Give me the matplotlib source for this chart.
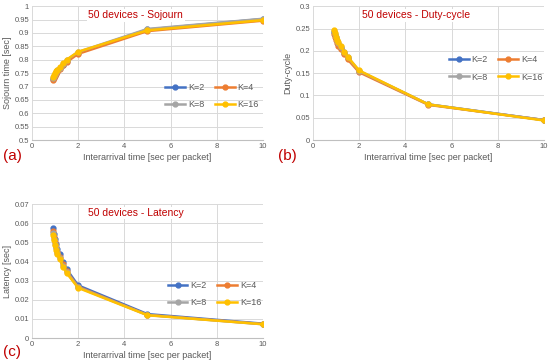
import matplotlib.pyplot as plt

plt.rcParams['font.family'] = ['Liberation Sans', 'DejaVu Sans']

# interarrival times (sec per packet)
x = [0.9, 0.95, 1.0, 1.05, 1.1, 1.2, 1.35, 1.5, 2, 5, 10]
labels = ["K=2", "K=4", "K=8", "K=16"]
colors = ["#4472C4", "#ED7D31", "#A5A5A5", "#FFC000"]

# sojourn time [sec]
sojourn_k2 = [0.730, 0.737, 0.745, 0.752, 0.758, 0.768, 0.782, 0.795, 0.826, 0.913, 0.952]
sojourn_k4 = [0.726, 0.733, 0.741, 0.748, 0.754, 0.765, 0.779, 0.791, 0.822, 0.907, 0.946]
sojourn_k8 = [0.733, 0.740, 0.748, 0.755, 0.761, 0.771, 0.786, 0.799, 0.829, 0.915, 0.953]
sojourn_k16 = [0.735, 0.742, 0.750, 0.757, 0.763, 0.772, 0.787, 0.800, 0.830, 0.910, 0.948]

# duty-cycle
duty_k2 = [0.242, 0.235, 0.228, 0.221, 0.215, 0.207, 0.195, 0.185, 0.154, 0.080, 0.045]
duty_k4 = [0.238, 0.231, 0.224, 0.217, 0.211, 0.205, 0.192, 0.181, 0.152, 0.079, 0.045]
duty_k8 = [0.244, 0.237, 0.230, 0.223, 0.217, 0.209, 0.197, 0.186, 0.155, 0.080, 0.045]
duty_k16 = [0.246, 0.239, 0.232, 0.225, 0.219, 0.210, 0.198, 0.187, 0.156, 0.080, 0.044]

# latency [sec]
lat_k2 = [0.0575, 0.0545, 0.0515, 0.0490, 0.0465, 0.0440, 0.0395, 0.0360, 0.0275, 0.0125, 0.0075]
lat_k4 = [0.0560, 0.0530, 0.0500, 0.0475, 0.0450, 0.0425, 0.0385, 0.0350, 0.0268, 0.0121, 0.0073]
lat_k8 = [0.0550, 0.0520, 0.0492, 0.0468, 0.0445, 0.0420, 0.0378, 0.0345, 0.0265, 0.0120, 0.0072]
lat_k16 = [0.0540, 0.0510, 0.0485, 0.0460, 0.0438, 0.0415, 0.0372, 0.0340, 0.0262, 0.0119, 0.0072]


def excel_panel(ax, series, title, ylabel, ylim, ystep, tag, leg_pos, title_pos, tag_pos):
    lines = []
    for ys, lab, col in zip(series, labels, colors):
        ln, = ax.plot(x, ys, color=col, label=lab, lw=1.8, marker="o", ms=3.5)
        lines.append(ln)
    ax.set_xlim(0, 10)
    ax.set_ylim(*ylim)
    ax.set_xticks([0, 2, 4, 6, 8, 10])
    n = int(round((ylim[1] - ylim[0]) / ystep))
    yt = [ylim[0] + i * ystep for i in range(n + 1)]
    ax.set_yticks(yt)
    ax.set_yticklabels(["%g" % round(v, 2) for v in yt])
    ax.grid(True, color="#D9D9D9", lw=0.7)
    ax.set_axisbelow(True)
    for s in ["top", "right", "left"]:
        ax.spines[s].set_visible(False)
    ax.spines["bottom"].set_color("#BFBFBF")
    ax.tick_params(axis="both", length=0, labelsize=5.5, colors="#595959", pad=2)
    ax.set_xlabel("Interarrival time [sec per packet]", fontsize=6.5, color="#595959", labelpad=2)
    ax.set_ylabel(ylabel, fontsize=6.5, color="#595959", labelpad=2)
    ax.text(title_pos[0], title_pos[1], title, transform=ax.transAxes, fontsize=7.5,
            color="#C00000", ha="center", va="center",
            bbox=dict(facecolor="white", edgecolor="none", pad=1))
    # row-wise legend order: K=2, K=4 / K=8, K=16
    order = [0, 2, 1, 3]
    leg = ax.legend([lines[i] for i in order], [labels[i] for i in order],
                    loc="center", bbox_to_anchor=leg_pos, ncol=2, frameon=False,
                    fontsize=6.5, handlelength=2.2, columnspacing=1.2, handletextpad=0.3,
                    labelspacing=0.9)
    for t in leg.get_texts():
        t.set_color("#595959")
    fig.text(tag_pos[0], tag_pos[1], tag, fontsize=11, color="#C00000",
             ha="left", va="center")


fig = plt.figure(figsize=(5.5, 3.64), dpi=100, facecolor="white")
ax_a = fig.add_axes([0.058, 0.615, 0.42, 0.368])
ax_b = fig.add_axes([0.569, 0.615, 0.42, 0.368])
ax_c = fig.add_axes([0.058, 0.0714, 0.42, 0.368])

excel_panel(ax_a, [sojourn_k2, sojourn_k4, sojourn_k8, sojourn_k16],
            "50 devices - Sojourn", "Sojourn time [sec]", (0.5, 1.0), 0.05,
            "(a)", (0.78, 0.33), (0.45, 0.933), (3 / 550, 1 - 156 / 364))
excel_panel(ax_b, [duty_k2, duty_k4, duty_k8, duty_k16],
            "50 devices - Duty-cycle", "Duty-cycle", (0.0, 0.3), 0.05,
            "(b)", (0.79, 0.535), (0.446, 0.933), (278 / 550, 1 - 156 / 364))
excel_panel(ax_c, [lat_k2, lat_k4, lat_k8, lat_k16],
            "50 devices - Latency", "Latency [sec]", (0.0, 0.07), 0.01,
            "(c)", (0.79, 0.33), (0.45, 0.933), (3 / 550, 1 - 352 / 364))

fig.savefig("out.png", dpi=100)
